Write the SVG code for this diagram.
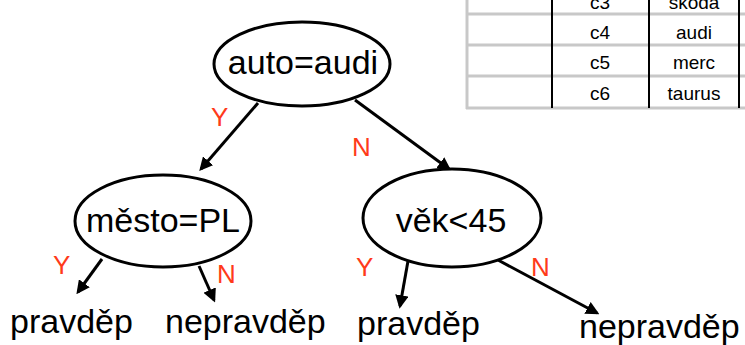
<svg xmlns="http://www.w3.org/2000/svg" width="745" height="345" viewBox="0 0 745 345">
  <style>
    .node ellipse { fill: #ffffff; stroke: #000000; stroke-width: 3; }
    .lbl { font-family: "Liberation Sans", Arial, sans-serif; font-size: 34px; fill: #000000; }
    .yn { font-family: "Liberation Sans", Arial, sans-serif; font-size: 26px; fill: #ff3a1a; }
    .cell { font-family: "Liberation Sans", Arial, sans-serif; font-size: 19px; fill: #000000; text-anchor: middle; }
    .edge { stroke: #000000; stroke-width: 3; fill: none; marker-end: url(#head); }
    .grid { stroke: #c8c8c8; stroke-width: 3; }
    .vline { stroke: #000000; stroke-width: 2; }
  </style>
  <defs>
    <marker id="head" viewBox="0 0 10 10" refX="8" refY="5" markerWidth="4.5" markerHeight="4.5" orient="auto" markerUnits="strokeWidth">
      <path d="M0,0 L10,5 L0,10 z" fill="#000000"/>
    </marker>
  </defs>
  <rect width="745" height="345" fill="#ffffff"/>

  <!-- data table (top right) -->
  <g id="table">
    <line class="grid" x1="467" y1="0" x2="467" y2="109"/>
    <line class="grid" x1="467" y1="14" x2="745" y2="14"/>
    <line class="grid" x1="467" y1="45" x2="745" y2="45"/>
    <line class="grid" x1="467" y1="76" x2="745" y2="76"/>
    <line class="grid" x1="466" y1="108" x2="745" y2="108"/>
    <line class="vline" x1="552" y1="0" x2="552" y2="108"/>
    <line class="vline" x1="649" y1="0" x2="649" y2="108"/>
    <line class="vline" x1="739" y1="0" x2="739" y2="108" stroke-width="3"/>
    <text class="cell" x="600" y="9">c3</text>
    <text class="cell" x="694" y="9">škoda</text>
    <text class="cell" x="600" y="39">c4</text>
    <text class="cell" x="694" y="39">audi</text>
    <text class="cell" x="600" y="69">c5</text>
    <text class="cell" x="694" y="69">merc</text>
    <text class="cell" x="600" y="100">c6</text>
    <text class="cell" x="694" y="100">taurus</text>
  </g>

  <!-- connectors -->
  <g id="connectors">
    <line class="edge" x1="258" y1="103" x2="201" y2="169"/>
    <line class="edge" x1="355" y1="100" x2="449" y2="169"/>
    <line class="edge" x1="102" y1="259" x2="78" y2="292"/>
    <line class="edge" x1="199" y1="266" x2="214" y2="300"/>
    <line class="edge" x1="408" y1="261" x2="400" y2="306"/>
    <line class="edge" x1="498" y1="260" x2="597" y2="313"/>
    <text class="yn" x="211" y="126">Y</text>
    <text class="yn" x="352" y="156">N</text>
    <text class="yn" x="53" y="274">Y</text>
    <text class="yn" x="217" y="283">N</text>
    <text class="yn" x="356" y="276">Y</text>
    <text class="yn" x="531" y="276">N</text>
  </g>

  <!-- decision nodes -->
  <g id="n-auto" class="node">
    <ellipse cx="302" cy="64" rx="88" ry="42"/>
    <text class="lbl" x="303" y="74" text-anchor="middle">auto=audi</text>
  </g>
  <g id="n-mesto" class="node">
    <ellipse cx="163" cy="221" rx="88" ry="46"/>
    <text class="lbl" x="163" y="232" text-anchor="middle">město=PL</text>
  </g>
  <g id="n-vek" class="node">
    <ellipse cx="452" cy="218" rx="89" ry="49"/>
    <text class="lbl" x="451" y="232" text-anchor="middle">věk&lt;45</text>
  </g>

  <!-- leaves -->
  <g id="leaf-1"><text class="lbl" x="10" y="333">pravděp</text></g>
  <g id="leaf-2"><text class="lbl" x="165" y="333">nepravděp</text></g>
  <g id="leaf-3"><text class="lbl" x="357" y="335">pravděp</text></g>
  <g id="leaf-4"><text class="lbl" x="579" y="338">nepravděp</text></g>
</svg>
